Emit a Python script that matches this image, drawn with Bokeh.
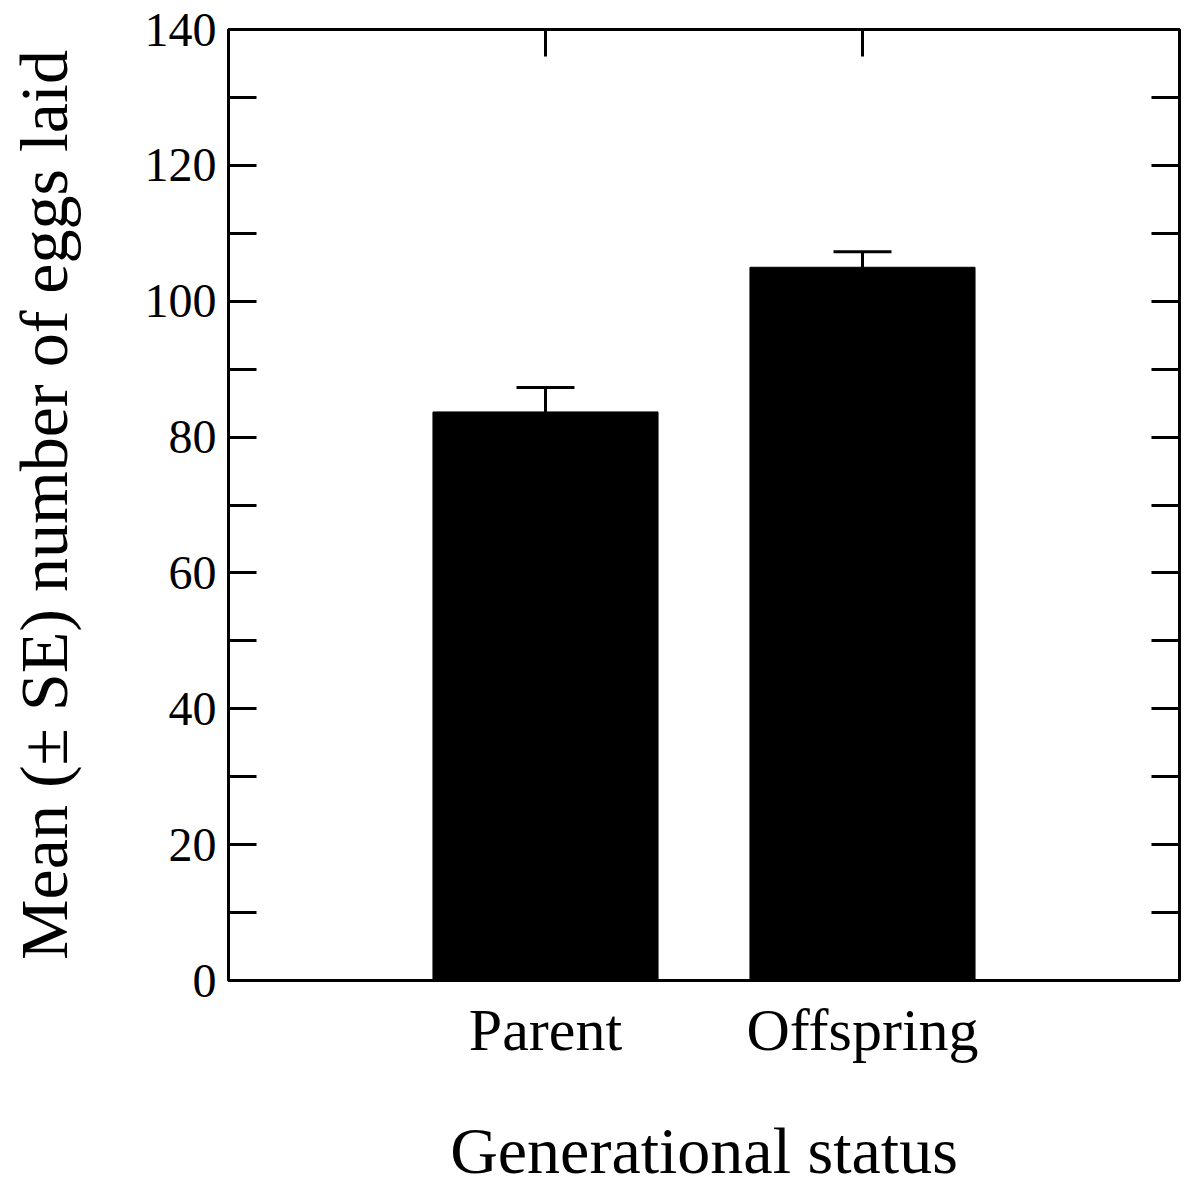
from bokeh.plotting import figure
from bokeh.models import (FactorRange, Range1d, LinearAxis, CategoricalAxis, FixedTicker,
                          ColumnDataSource, Whisker, TeeHead, CustomJSTickFormatter)
from bokeh.embed import file_html
from bokeh.resources import INLINE

categories = ["Parent", "Offspring"]
means = [83.7, 105.0]
se = [3.6, 2.3]
y_ticks = [0, 20, 40, 60, 80, 100, 120, 140]
y_minor = [10, 30, 50, 70, 90, 110, 130]

FONT = "Liberation Serif"

src = ColumnDataSource(dict(
    cat=categories,
    mean=means,
    upper=[m + s for m, s in zip(means, se)],
))

p = figure(
    x_range=FactorRange(*categories, range_padding=0.5, range_padding_units="absolute"),
    y_range=Range1d(0, 140),
    frame_width=951, frame_height=951,
    min_border_left=228, min_border_top=29, min_border_right=10, min_border_bottom=205,
    output_backend="svg", toolbar_location=None,
    x_axis_location="below", y_axis_location="left",
)
p.background_fill_color = "white"
p.border_fill_color = "white"
p.outline_line_color = "black"
p.outline_line_width = 3
p.xgrid.visible = False
p.ygrid.visible = False

p.vbar(x="cat", top="mean", bottom=0, width=0.71, source=src,
       fill_color="black", line_color="black", line_width=1)

wh = Whisker(base="cat", upper="upper", lower="mean", source=src,
             line_color="black", line_width=3, lower_head=None,
             upper_head=TeeHead(size=58, line_color="black", line_width=3))
p.add_layout(wh)

ticker = FixedTicker(ticks=y_ticks, minor_ticks=y_minor)

# left axis
ya = p.yaxis[0]
ya.ticker = ticker
ya.axis_label = "Mean (\u00b1 SE) number of eggs laid"
ya.axis_label_text_font = FONT
ya.axis_label_text_font_style = "normal"
ya.axis_label_text_font_size = "68px"
ya.axis_label_text_color = "black"
ya.axis_label_standoff = 60
ya.major_label_text_font = FONT
ya.major_label_text_font_size = "48px"
ya.major_label_text_color = "black"
ya.major_label_standoff = 12
ya.axis_line_width = 3
ya.major_tick_in = 28
ya.major_tick_out = 0
ya.minor_tick_in = 28
ya.minor_tick_out = 0
ya.major_tick_line_width = 3
ya.minor_tick_line_width = 3

# right axis (ticks only)
ra = LinearAxis(ticker=ticker, axis_line_width=3,
                major_tick_in=28, major_tick_out=0, minor_tick_in=28, minor_tick_out=0,
                major_tick_line_width=3, minor_tick_line_width=3,
                formatter=CustomJSTickFormatter(code="return ''"),
                major_label_standoff=0)
p.add_layout(ra, "right")

# bottom axis
xa = p.xaxis[0]
xa.axis_label = "Generational status"
xa.axis_label_text_font = FONT
xa.axis_label_text_font_style = "normal"
xa.axis_label_text_font_size = "66px"
xa.axis_label_text_color = "black"
xa.axis_label_standoff = 48
xa.major_label_text_font = FONT
xa.major_label_text_font_size = "60px"
xa.major_label_text_color = "black"
xa.major_label_standoff = 16
xa.axis_line_width = 3
xa.major_tick_in = 0
xa.major_tick_out = 0
xa.minor_tick_in = 0
xa.minor_tick_out = 0

# top axis (ticks only)
ta = CategoricalAxis(axis_line_width=3, major_tick_in=27, major_tick_out=0,
                     major_tick_line_width=3,
                     formatter=CustomJSTickFormatter(code="return ''"),
                     major_label_standoff=0)
p.add_layout(ta, "above")

open("out.html", "w").write(file_html(p, INLINE))
